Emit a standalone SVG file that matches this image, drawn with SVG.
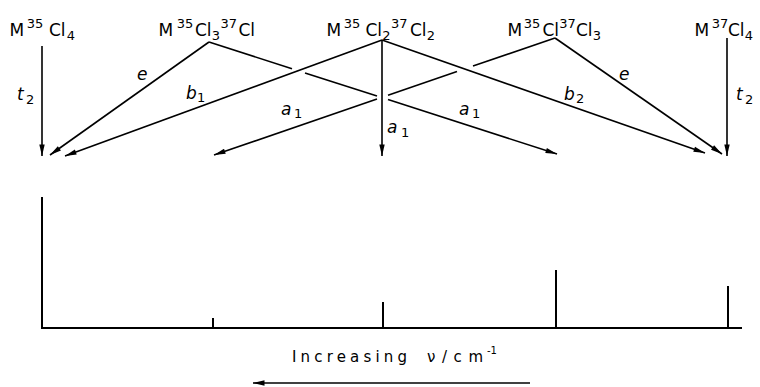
<svg xmlns="http://www.w3.org/2000/svg" width="760" height="387" viewBox="0 0 760 387">
<style>
text{font-family:"DejaVu Sans","Liberation Sans",sans-serif;fill:#000}
.m{font-size:17px}
.s{font-size:13px}
.i{font-size:17px;font-style:italic}
.is{font-size:13px;font-style:normal}
.c{stroke:#000;stroke-width:1.6;fill:none}
.sp{stroke:#000;stroke-width:2;fill:none}
</style>
<defs>
<marker id="ah" viewBox="-12 -3 12 6" markerWidth="12" markerHeight="6" refX="0" refY="0" orient="auto" markerUnits="userSpaceOnUse">
<path d="M0,0 L-11.5,-2.7 L-11.5,2.7 Z" fill="#000"/>
</marker>
</defs>
<rect width="760" height="387" fill="#fff"/>
<g id="nodes">
<g id="n1"><text class="m"><tspan x="9.5" y="36">M</tspan><tspan class="s" x="26.7" y="28">35</tspan><tspan x="49" y="36">Cl</tspan><tspan class="s" x="66.7" y="40">4</tspan></text></g>
<g id="n2"><text class="m"><tspan x="158.5" y="36">M</tspan><tspan class="s" x="176.7" y="28">35</tspan><tspan x="195" y="36">Cl</tspan><tspan class="s" x="211.8" y="40">3</tspan><tspan class="s" x="220.6" y="28">37</tspan><tspan x="238.5" y="36">Cl</tspan></text></g>
<g id="n3"><text class="m"><tspan x="326.5" y="36">M</tspan><tspan class="s" x="343.7" y="28">35</tspan><tspan x="365.5" y="36">Cl</tspan><tspan class="s" x="382.2" y="40">2</tspan><tspan class="s" x="391" y="28">37</tspan><tspan x="410" y="36">Cl</tspan><tspan class="s" x="426.8" y="40">2</tspan></text></g>
<g id="n4"><text class="m"><tspan x="507.5" y="36">M</tspan><tspan class="s" x="523.7" y="28">35</tspan><tspan x="542.5" y="36">Cl</tspan><tspan class="s" x="559.2" y="28">37</tspan><tspan x="576" y="36">Cl</tspan><tspan class="s" x="592.8" y="40">3</tspan></text></g>
<g id="n5"><text class="m"><tspan x="694.5" y="36">M</tspan><tspan class="s" x="711.7" y="28">37</tspan><tspan x="728" y="36">Cl</tspan><tspan class="s" x="744.8" y="40">4</tspan></text></g>
</g>
<g id="connectors">
<line class="c" x1="42" y1="46" x2="42" y2="156" marker-end="url(#ah)"/>
<line class="c" x1="727" y1="38" x2="727" y2="156" marker-end="url(#ah)"/>
<line class="c" x1="209" y1="42" x2="50" y2="155" marker-end="url(#ah)"/>
<line class="c" x1="382" y1="40" x2="65" y2="156" marker-end="url(#ah)"/>
<line class="c" x1="382" y1="40" x2="382" y2="156" marker-end="url(#ah)"/>
<line class="c" x1="382" y1="40" x2="705" y2="153" marker-end="url(#ah)"/>
<line class="c" x1="555" y1="38" x2="722" y2="154" marker-end="url(#ah)"/>
<line class="c" x1="209" y1="42" x2="292" y2="68.7"/>
<line class="c" x1="305" y1="72.9" x2="377" y2="96.1"/>
<line class="c" x1="388" y1="99.6" x2="557" y2="154" marker-end="url(#ah)"/>
<line class="c" x1="555" y1="38" x2="473" y2="66.1"/>
<line class="c" x1="457" y1="71.6" x2="388" y2="95.3"/>
<line class="c" x1="377" y1="99.1" x2="214" y2="155" marker-end="url(#ah)"/>
</g>
<g id="connector-labels">
<text class="i"><tspan x="17" y="100">t</tspan><tspan class="is" x="26" y="104">2</tspan></text>
<text class="i" x="137" y="80">e</text>
<text class="i"><tspan x="186" y="99">b</tspan><tspan class="is" x="197" y="102">1</tspan></text>
<text class="i"><tspan x="281" y="115">a</tspan><tspan class="is" x="294" y="118">1</tspan></text>
<text class="i"><tspan x="387" y="133">a</tspan><tspan class="is" x="401" y="137">1</tspan></text>
<text class="i"><tspan x="459" y="115">a</tspan><tspan class="is" x="472" y="118">1</tspan></text>
<text class="i"><tspan x="564" y="100">b</tspan><tspan class="is" x="576" y="103">2</tspan></text>
<text class="i" x="619" y="80">e</text>
<text class="i"><tspan x="736" y="100">t</tspan><tspan class="is" x="745" y="104">2</tspan></text>
</g>
<g id="spectrum">
<line class="sp" x1="41" y1="328" x2="742" y2="328"/>
<line class="sp" x1="42" y1="197" x2="42" y2="328"/>
<line class="sp" x1="213" y1="318" x2="213" y2="328"/>
<line class="sp" x1="383" y1="302" x2="383" y2="328"/>
<line class="sp" x1="556" y1="270" x2="556" y2="328"/>
<line class="sp" x1="728" y1="286" x2="728" y2="328"/>
</g>
<g id="axis-label">
<text style="font-size:15px"><tspan x="292" y="362" textLength="115" lengthAdjust="spacing">Increasing</tspan><tspan x="427" y="362" textLength="56" lengthAdjust="spacing">ν/cm</tspan><tspan x="487" y="354" style="font-size:10px">-1</tspan></text>
<line class="c" x1="530" y1="383" x2="253" y2="383" marker-end="url(#ah)"/>
</g>
</svg>
